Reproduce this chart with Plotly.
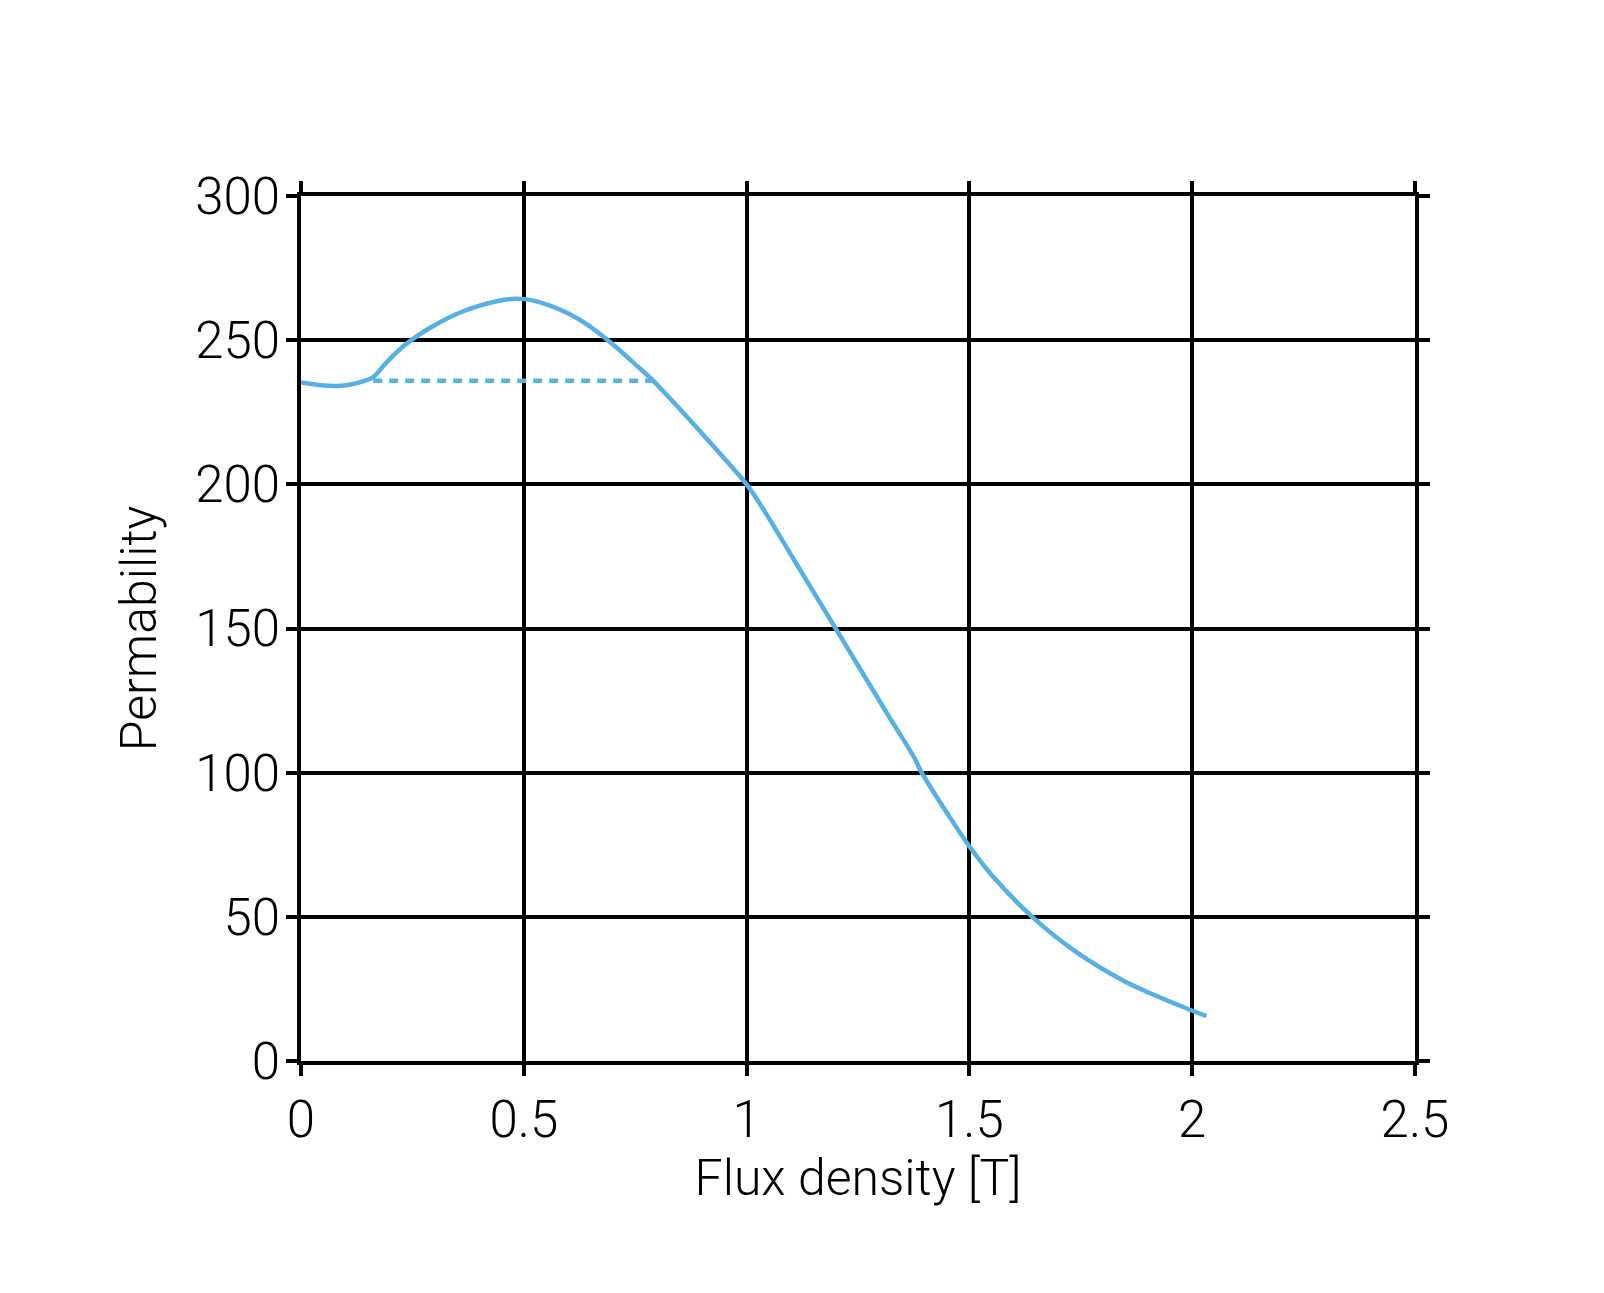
import plotly.graph_objects as go

# measured permeability curve
flux = [0, 0.083, 0.143, 0.162, 0.188, 0.233, 0.292, 0.367, 0.442, 0.480,
        0.517, 0.554, 0.599, 0.644, 0.696, 0.749, 0.790, 0.846, 0.921, 1.0,
        1.033, 1.108, 1.205, 1.243, 1.317, 1.377, 1.392, 1.452, 1.497, 1.549,
        1.643, 1.736, 1.848, 1.998, 2.032]
permeability = [235.3, 234.1, 235.9, 237.2, 241.6, 248.3, 254.5, 260.2, 263.6,
                264.4, 263.9, 262.2, 259.3, 255.2, 249.0, 241.8, 236.0, 226.8,
                214.0, 200.0, 192.5, 173.4, 148.7, 139.0, 120.1, 105.0, 100.3,
                85.5, 75.1, 64.7, 49.7, 38.2, 27.7, 17.6, 15.6]

# horizontal reference (dashed)
ref_flux = [0.162, 0.786]
ref_perm = [235.9, 235.9]

x_ticks = [0, 0.5, 1, 1.5, 2, 2.5]
y_ticks = [0, 50, 100, 150, 200, 250, 300]

color = "#56B0E3"

fig = go.Figure()
fig.add_trace(go.Scatter(x=ref_flux, y=ref_perm, mode="lines",
                         line=dict(color=color, width=4.5, dash="9px,7px")))
fig.add_trace(go.Scatter(x=flux, y=permeability, mode="lines",
                         line=dict(color=color, width=4.5, shape="spline", smoothing=1.0)))

axis = dict(showline=True, mirror="ticks", linecolor="black", linewidth=3.5,
            showgrid=True, gridcolor="black", gridwidth=3.5, zeroline=False,
            ticks="outside", ticklen=11, tickwidth=3.5, tickcolor="black",
            tickfont=dict(size=51, color="black"))

fig.update_layout(
    width=1604, height=1293,
    margin=dict(l=293, r=197, t=188, b=240),
    paper_bgcolor="white", plot_bgcolor="white",
    font=dict(family="Roboto", weight=300, color="black", size=50),
    showlegend=False,
    xaxis=dict(axis, range=[0, 2.5], tickvals=x_ticks,
               title=dict(text="Flux density [T]", standoff=8, font=dict(size=50))),
    yaxis=dict(axis, range=[0, 300], tickvals=y_ticks, ticklabelstandoff=-4,
               title=dict(text="Permability", standoff=24, font=dict(size=50))),
)

fig.write_html("out.html")
